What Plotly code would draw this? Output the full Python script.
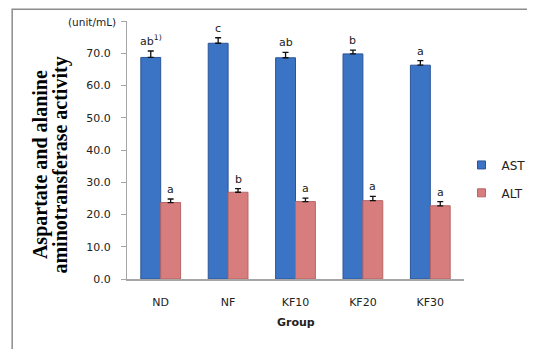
import plotly.graph_objects as go

groups = ["ND", "NF", "KF10", "KF20", "KF30"]
ast = [68.7, 73.1, 68.6, 69.8, 66.3]
ast_err = [2.0, 1.7, 1.7, 1.2, 1.4]
alt = [23.7, 26.9, 24.0, 24.3, 22.7]
alt_err = [1.1, 1.1, 1.1, 1.3, 1.3]
ast_letters = ["ab<sup>1)</sup>", "c", "ab", "b", "a"]
alt_letters = ["a", "b", "a", "a", "a"]
y_ticks = [0, 10, 20, 30, 40, 50, 60, 70, 80]
y_ticktext = ["0.0", "10.0", "20.0", "30.0", "40.0", "50.0", "60.0", "70.0", ""]

AST_COLOR, AST_EDGE = "#3b74c4", "#2b5597"
ALT_COLOR, ALT_EDGE = "#d77d7d", "#b86565"

# page body has an 8px margin; work in screen pixels and convert
OFF = 8
W, H = 535 - OFF, 349 - OFF
PL, PR, PT, PB = 127, 464.5, 20.5, 279.5   # plot area on screen
ML, MR, MT, MB = PL - OFF, W - (PR - OFF), PT - OFF, H - (PB - OFF)
pw = PR - PL
ph = PB - PT


def px(x):
    return (x - PL) / pw


def py(y):
    return (PB - y) / ph


fig = go.Figure()
fig.add_trace(go.Bar(
    name="AST", x=groups, y=ast, showlegend=False,
    marker=dict(color=AST_COLOR, line=dict(color=AST_EDGE, width=1)),
    error_y=dict(type="data", array=ast_err, arrayminus=[0]*5, symmetric=False,
                 color="#111111", thickness=1.3, width=3),
))
fig.add_trace(go.Bar(
    name="ALT", x=groups, y=alt, showlegend=False,
    marker=dict(color=ALT_COLOR, line=dict(color=ALT_EDGE, width=1)),
    error_y=dict(type="data", array=alt_err, arrayminus=[0]*5, symmetric=False,
                 color="#111111", thickness=1.3, width=3),
))
# legend entries (small square keys)
fig.add_trace(go.Scatter(name="AST", x=[None], y=[None], mode="markers", legend="legend",
                         marker=dict(symbol="square", size=8, color=AST_COLOR,
                                     line=dict(color=AST_EDGE, width=1))))
fig.add_trace(go.Scatter(name="ALT", x=[None], y=[None], mode="markers", legend="legend2",
                         marker=dict(symbol="square", size=8, color=ALT_COLOR,
                                     line=dict(color=ALT_EDGE, width=1))))

# significance letters above error bars
for i, g in enumerate(groups):
    fig.add_annotation(x=g, y=ast[i] + ast_err[i], text=ast_letters[i],
                       xshift=-10, yshift=1, yanchor="bottom", showarrow=False,
                       font=dict(family="DejaVu Sans", size=11, color="#222222"))
    fig.add_annotation(x=g, y=alt[i] + alt_err[i], text=alt_letters[i],
                       xshift=10, yshift=1, yanchor="bottom", showarrow=False,
                       font=dict(family="DejaVu Sans", size=11, color="#222222"))

# unit label
fig.add_annotation(xref="paper", yref="paper", x=px(118), y=py(22),
                   xanchor="right", yanchor="middle", text="(unit/mL)", showarrow=False,
                   font=dict(family="DejaVu Sans", size=10.5, color="#222222"))

# y title (two lines)
for txt, xc in (("Aspartate and alanine", 41), ("aminotransferase activity", 60.5)):
    fig.add_annotation(xref="paper", yref="paper", x=px(xc), y=py(165),
                       xanchor="center", yanchor="middle", textangle=-90,
                       text="<b>" + txt + "</b>", showarrow=False,
                       font=dict(family="Liberation Serif", size=20, color="#000000"))

# x title
fig.add_annotation(xref="paper", yref="paper", x=0.5, y=py(323),
                   xanchor="center", yanchor="middle", text="<b>Group</b>", showarrow=False,
                   font=dict(family="DejaVu Sans", size=11, color="#222222"))

# outer frame (top and left edges visible)
fig.add_shape(type="rect", xref="paper", yref="paper",
              x0=px(12), x1=px(545), y0=py(360), y1=py(8.8),
              line=dict(color="#8c8c8c", width=1.5), fillcolor="rgba(0,0,0,0)", layer="below")

legend_common = dict(xanchor="left", yanchor="middle",
                     font=dict(family="DejaVu Sans", size=12, color="#222222"),
                     itemwidth=30, bgcolor="rgba(0,0,0,0)")

fig.update_layout(
    width=W, height=H,
    margin=dict(l=ML, r=MR, t=MT, b=MB, pad=0, autoexpand=False),
    paper_bgcolor="white", plot_bgcolor="white",
    barmode="group", bargap=0.41, bargroupgap=0.0,
    showlegend=True,
    legend=dict(x=px(462), y=py(165), **legend_common),
    legend2=dict(x=px(462), y=py(193), **legend_common),
    xaxis=dict(showline=True, linecolor="#a6a6a6", linewidth=2, ticks="",
               tickfont=dict(family="DejaVu Sans", size=11, color="#222222"),
               ticklabelstandoff=12, automargin=False),
    yaxis=dict(range=[0, 80], tickvals=y_ticks, ticktext=y_ticktext,
               showline=True, linecolor="#a6a6a6", linewidth=1, ticks="outside",
               ticklen=5, tickcolor="#a6a6a6", showgrid=False, zeroline=False,
               tickfont=dict(family="DejaVu Sans", size=11, color="#222222"),
               ticklabelstandoff=8, automargin=False),
)

fig.write_html("out.html")
